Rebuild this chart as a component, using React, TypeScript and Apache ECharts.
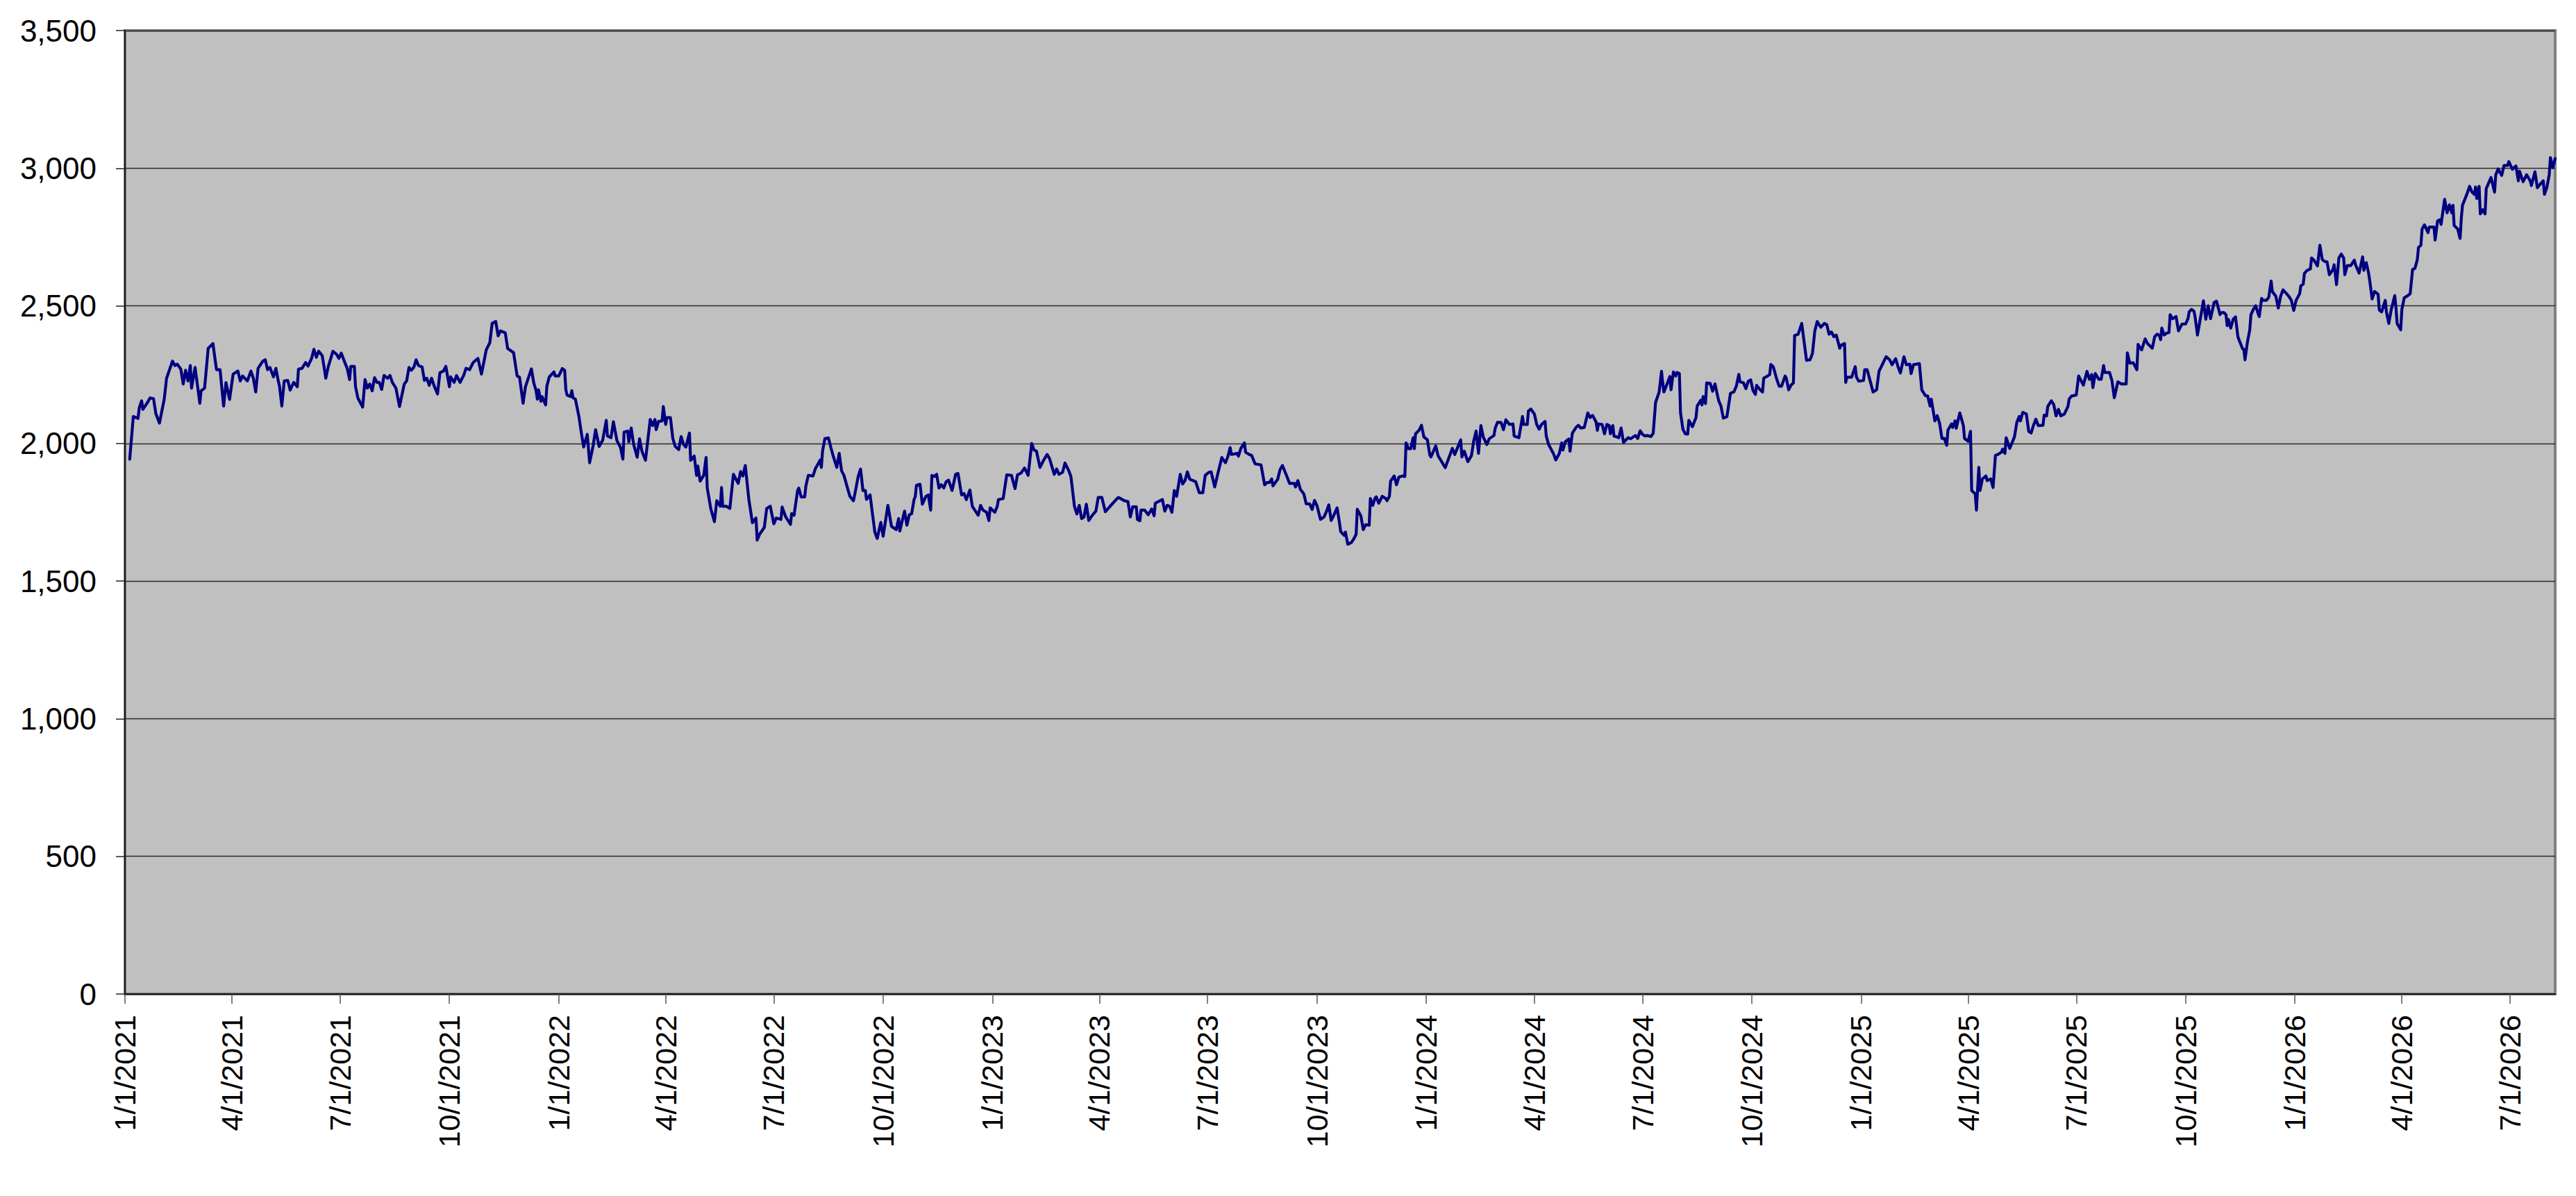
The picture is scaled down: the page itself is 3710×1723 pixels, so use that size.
import React, { useEffect, useRef } from "react";
import * as echarts from "echarts";

// Start date of the series; observations are [days since START, close value]
const START = { year: 2021, month: 0, day: 1 };
const AXIS_END_DAY = 2045;

const xTickLabels = [
  "1/1/2021", "4/1/2021", "7/1/2021", "10/1/2021",
  "1/1/2022", "4/1/2022", "7/1/2022", "10/1/2022",
  "1/1/2023", "4/1/2023", "7/1/2023", "10/1/2023",
  "1/1/2024", "4/1/2024", "7/1/2024", "10/1/2024",
  "1/1/2025", "4/1/2025", "7/1/2025", "10/1/2025",
  "1/1/2026", "4/1/2026", "7/1/2026",
];

const yMin = 0;
const yMax = 3500;
const yInterval = 500;

const obs2021: [number, number][] = [
  [4,1943],[7,2098],[11,2091],[12,2129],[14,2155],[15,2124],[19,2149],[21,2165],[24,2163],[26,2108],
  [29,2074],[33,2160],[35,2237],[40,2299],[42,2283],[44,2288],[47,2270],[49,2216],[51,2266],[53,2227],
  [55,2283],[56,2201],[59,2276],[63,2146],[64,2191],[67,2201],[70,2345],[74,2363],[77,2268],[80,2268],
  [83,2136],[85,2221],[88,2160],[91,2252],[95,2263],[97,2227],[99,2245],[103,2227],[106,2263],[108,2237],
  [110,2187],[112,2273],[116,2299],[118,2304],[120,2268],[122,2276],[125,2242],[127,2273],[129,2227],[130,2209],
  [132,2136],[134,2227],[137,2229],[139,2194],[142,2222],[145,2206],[146,2270],[149,2273],[152,2294],[154,2281],
  [157,2309],[159,2342],[161,2313],[163,2335],[166,2319],[169,2237],[171,2278],[175,2335],[178,2324],[180,2309],
  [182,2328],[185,2294],[187,2273],[189,2232],[190,2280],[193,2280],[194,2206],[196,2165],[200,2132],[202,2232],
  [204,2201],[206,2216],[208,2191],[210,2239],[212,2222],[214,2222],[216,2196],[218,2247],[221,2237],[223,2247],
  [225,2222],[228,2201],[231,2134],[233,2175],[235,2216],[237,2227],[239,2276],[241,2266],[243,2276],[245,2304],
  [247,2283],[250,2278],[252,2229],[254,2237],[256,2211],[258,2237],[260,2211],[263,2180],[265,2257],[268,2263],
  [270,2280],[273,2206],[274,2242],[277,2222],[279,2247],[282,2222],[285,2247],[287,2273],[290,2268],[293,2294],
  [297,2309],[300,2252],[302,2296],[304,2340],[307,2366],[309,2437],[312,2443],[314,2391],[316,2409],[320,2402],
  [322,2345],[327,2330],[330,2245],[332,2241],[335,2146],[337,2206],
];

const obs2022: [number, number][] = [
  [342,2271],[344,2220],[346,2191],[347,2161],[348,2195],[350,2153],[351,2170],[354,2140],[355,2208],[357,2241],
  [361,2260],[362,2245],[365,2245],[368,2272],[370,2266],[371,2195],[372,2176],[375,2170],[376,2192],[377,2166],
  [379,2161],[382,2098],[384,2039],[386,1987],[389,2033],[391,1930],[394,1993],[396,2050],[399,1989],[402,2012],
  [405,2084],[406,2027],[409,2021],[411,2079],[414,2010],[417,1985],[419,1943],[420,2041],[423,2045],[424,2006],
  [426,2056],[428,1997],[431,1950],[433,2017],[435,1972],[438,1939],[442,2087],[444,2065],[446,2087],[447,2050],
  [449,2080],[452,2082],[453,2134],[455,2069],[456,2094],[459,2094],[461,2018],[463,1989],[466,1978],[468,2025],
  [470,1997],[472,1987],[475,2038],[476,1939],[479,1954],[481,1884],[482,1918],[484,1863],[487,1884],[489,1949],
  [490,1838],[493,1762],[496,1716],[498,1792],[501,1772],[502,1840],[503,1772],[506,1772],[509,1764],[512,1888],
  [516,1855],[518,1898],[520,1882],[522,1920],[525,1796],[528,1712],[531,1729],[532,1649],[534,1670],[538,1695],
  [540,1764],[543,1772],[546,1708],[548,1729],[552,1724],[553,1769],[556,1733],[560,1706],[561,1745],[563,1739],
  [566,1829],[567,1838],[569,1806],[572,1806],[573,1846],[575,1884],[579,1882],[581,1909],[583,1924],[585,1940],
  [586,1913],[587,1972],[589,2018],[592,2020],[594,1985],[596,1954],[599,1913],[601,1964],[603,1901],[605,1884],
  [608,1838],[610,1808],[613,1792],[615,1834],[617,1880],[619,1907],[621,1829],[623,1829],[624,1797],[627,1813],
  [629,1745],[631,1678],[633,1655],[636,1713],[638,1663],[642,1775],[645,1699],[649,1687],[651,1727],[652,1682],
  [656,1754],[658,1703],[660,1741],[662,1745],[664,1796],[665,1806],[666,1848],[669,1852],[671,1779],[674,1808],
  [676,1813],[678,1758],[679,1884],[681,1880],[683,1888],[685,1838],
];

const obs2023: [number, number][] = [
  [687,1850],[689,1838],[691,1861],[693,1867],[696,1829],[699,1888],[701,1891],[704,1813],[706,1818],[708,1796],
  [711,1831],[713,1772],[718,1739],[720,1775],[722,1758],[725,1750],[727,1720],[728,1766],[732,1750],[734,1771],
  [735,1796],[739,1800],[742,1886],[746,1884],[749,1836],[751,1886],[754,1892],[757,1911],[760,1884],[763,2000],
  [765,1976],[767,1972],[770,1913],[773,1939],[776,1960],[778,1945],[782,1888],[784,1907],[786,1888],[789,1895],
  [791,1929],[794,1903],[796,1880],[799,1771],[801,1744],[803,1775],[805,1727],[807,1733],[809,1779],[811,1720],
  [814,1739],[817,1754],[819,1804],[822,1804],[825,1752],[829,1772],[832,1786],[834,1796],[836,1804],[841,1792],
  [844,1789],[846,1733],[848,1770],[851,1770],[852,1724],[854,1719],[855,1758],[858,1758],[861,1741],[864,1762],
  [866,1737],[867,1783],[871,1792],[873,1796],[875,1754],[877,1775],[879,1772],[881,1750],[883,1829],[885,1808],
  [888,1888],[890,1853],[892,1865],[894,1897],[896,1870],[901,1861],[904,1821],[907,1821],[909,1884],[912,1895],
  [914,1897],[917,1842],[920,1897],[923,1949],[926,1930],[928,1951],[930,1985],[931,1960],[936,1964],[937,1954],
  [939,1982],[942,2002],[943,1968],[946,1960],[948,1957],[951,1926],[956,1922],[959,1850],[961,1858],[963,1858],
  [965,1871],[966,1846],[970,1870],[972,1905],[974,1920],[977,1888],[980,1855],[984,1855],[985,1842],[987,1865],
  [989,1834],[992,1817],[994,1781],[997,1780],[999,1760],[1001,1793],[1003,1775],[1006,1724],[1009,1733],[1011,1752],
  [1013,1777],[1015,1720],[1017,1737],[1020,1766],[1022,1712],[1023,1680],[1026,1666],[1027,1678],[1029,1634],
];

const obs2024: [number, number][] = [
  [1032,1640],[1034,1653],[1036,1670],[1037,1761],[1040,1737],[1042,1687],[1044,1705],[1047,1703],[1048,1800],[1050,1775],
  [1052,1802],[1053,1806],[1055,1783],[1058,1808],[1061,1800],[1062,1792],[1064,1808],[1065,1863],[1068,1882],[1070,1850],
  [1072,1878],[1075,1882],[1077,1880],[1078,2002],[1080,1981],[1082,1981],[1084,2021],[1085,1981],[1086,2035],[1089,2048],
  [1091,2066],[1093,2024],[1096,2013],[1098,1958],[1099,1951],[1103,1991],[1105,1955],[1108,1934],[1111,1912],[1114,1947],
  [1117,1982],[1119,1960],[1121,1981],[1124,2013],[1125,1951],[1127,1972],[1130,1934],[1133,1955],[1135,2010],[1137,2045],
  [1139,1964],[1141,2065],[1143,2023],[1146,1996],[1148,2017],[1152,2029],[1153,2055],[1155,2077],[1158,2076],[1160,2050],
  [1162,2086],[1165,2069],[1168,2071],[1169,2027],[1173,2021],[1176,2098],[1177,2069],[1180,2069],[1181,2118],[1183,2125],
  [1186,2107],[1188,2069],[1190,2052],[1192,2069],[1195,2080],[1196,2027],[1198,1996],[1202,1964],[1204,1940],[1207,1964],
  [1209,2002],[1210,1976],[1212,2006],[1215,2016],[1216,1972],[1217,2006],[1218,2038],[1221,2058],[1223,2066],[1225,2056],
  [1228,2058],[1231,2111],[1233,2094],[1235,2102],[1238,2077],[1239,2048],[1240,2071],[1243,2069],[1245,2035],[1247,2069],
  [1249,2065],[1250,2035],[1252,2065],[1253,2027],[1256,2023],[1257,2021],[1259,2056],[1261,2004],[1265,2021],[1267,2017],
  [1271,2029],[1273,2018],[1275,2046],[1277,2033],[1279,2027],[1281,2029],[1284,2025],[1286,2037],[1288,2149],[1291,2187],
  [1293,2262],[1294,2220],[1295,2187],[1298,2220],[1300,2243],[1301,2195],[1303,2260],[1305,2245],[1306,2258],[1308,2254],
  [1309,2111],[1311,2052],[1313,2035],[1315,2034],[1316,2084],[1319,2061],[1322,2094],[1323,2136],[1326,2157],[1327,2140],
  [1328,2170],[1330,2145],[1331,2220],[1334,2218],[1336,2190],[1338,2216],[1341,2157],[1343,2136],[1345,2092],[1348,2097],
  [1351,2182],[1354,2188],[1356,2209],[1358,2251],[1359,2224],[1362,2220],[1364,2199],[1366,2226],[1368,2231],[1370,2192],
  [1372,2178],[1373,2211],
];

const obs2025: [number, number][] = [
  [1376,2195],[1378,2187],[1379,2237],[1384,2250],[1385,2287],[1387,2279],[1390,2233],[1392,2208],[1394,2208],[1397,2245],
  [1398,2237],[1400,2195],[1402,2212],[1404,2220],[1405,2392],[1408,2397],[1411,2436],[1415,2302],[1418,2304],[1420,2327],
  [1422,2409],[1424,2443],[1427,2422],[1430,2436],[1432,2432],[1434,2397],[1436,2405],[1438,2388],[1440,2394],[1443,2346],
  [1444,2357],[1447,2363],[1448,2222],[1449,2241],[1453,2241],[1456,2279],[1457,2241],[1459,2226],[1463,2229],[1464,2268],
  [1466,2268],[1469,2220],[1471,2187],[1474,2195],[1476,2262],[1482,2315],[1485,2304],[1487,2286],[1490,2308],[1492,2279],
  [1494,2256],[1497,2315],[1499,2286],[1502,2288],[1503,2254],[1505,2286],[1510,2290],[1512,2195],[1515,2174],[1517,2172],
  [1519,2136],[1520,2161],[1523,2082],[1525,2101],[1527,2073],[1529,2018],[1531,2018],[1533,1993],[1534,2048],[1537,2071],
  [1538,2058],[1540,2082],[1541,2055],[1544,2111],[1547,2065],[1548,2018],[1551,2008],[1553,2044],[1554,1829],[1557,1817],
  [1558,1758],[1560,1913],[1561,1829],[1563,1871],[1566,1882],[1567,1865],[1570,1871],[1572,1840],[1574,1957],[1576,1960],
  [1579,1968],[1580,1979],[1582,1964],[1583,2021],[1586,1982],[1590,2024],[1592,2077],[1594,2098],[1595,2082],[1597,2113],
  [1600,2107],[1602,2044],[1604,2038],[1606,2066],[1608,2088],[1610,2065],[1614,2066],[1615,2103],[1617,2100],[1618,2134],
  [1621,2155],[1623,2142],[1625,2100],[1627,2124],[1629,2100],[1632,2107],[1635,2134],[1636,2161],[1638,2172],[1642,2176],
  [1644,2245],[1648,2212],[1651,2262],[1653,2233],[1655,2250],[1656,2203],[1658,2254],[1661,2233],[1663,2233],[1665,2283],
  [1666,2258],[1670,2258],[1672,2229],[1674,2166],[1677,2224],[1680,2216],[1684,2216],[1685,2329],[1687,2292],[1690,2293],
  [1693,2268],[1694,2360],[1697,2340],[1700,2380],[1702,2363],
];

const obs2026: [number, number][] = [
  [1706,2346],[1708,2388],[1710,2397],[1712,2392],[1713,2377],[1714,2419],[1716,2394],[1718,2401],[1720,2403],[1721,2468],
  [1723,2453],[1726,2461],[1728,2409],[1731,2434],[1734,2434],[1736,2453],[1737,2478],[1739,2487],[1741,2481],[1742,2460],
  [1744,2394],[1746,2443],[1749,2518],[1751,2451],[1753,2500],[1755,2453],[1758,2512],[1760,2517],[1763,2468],[1764,2475],
  [1766,2476],[1768,2468],[1769,2428],[1770,2451],[1772,2419],[1774,2451],[1776,2460],[1778,2388],[1779,2376],[1782,2344],
  [1783,2342],[1784,2304],[1786,2367],[1788,2413],[1789,2468],[1791,2487],[1793,2500],[1795,2472],[1796,2461],[1798,2527],
  [1799,2520],[1802,2520],[1804,2531],[1806,2590],[1807,2552],[1810,2534],[1812,2492],[1814,2535],[1816,2558],[1819,2544],
  [1821,2534],[1823,2520],[1825,2483],[1827,2520],[1830,2544],[1831,2573],[1833,2579],[1834,2618],[1836,2628],[1839,2634],
  [1840,2674],[1842,2666],[1845,2645],[1847,2720],[1849,2668],[1851,2661],[1853,2660],[1855,2613],[1858,2632],[1859,2649],
  [1861,2577],[1863,2674],[1865,2688],[1867,2674],[1868,2613],[1870,2646],[1873,2646],[1876,2666],[1877,2649],[1880,2619],
  [1883,2678],[1884,2629],[1886,2657],[1888,2619],[1889,2590],[1891,2525],[1893,2552],[1896,2542],[1897,2485],[1899,2478],
  [1902,2520],[1903,2478],[1905,2436],[1907,2485],[1910,2537],[1911,2495],[1912,2436],[1915,2413],[1916,2487],[1918,2529],
  [1921,2537],[1923,2544],[1925,2632],[1927,2636],[1929,2668],[1930,2712],[1932,2720],[1933,2779],[1935,2794],[1938,2766],
  [1939,2786],[1943,2786],[1944,2739],[1946,2808],[1948,2813],[1949,2796],[1952,2887],[1954,2838],[1956,2867],[1958,2838],
  [1959,2865],[1960,2792],[1963,2779],[1965,2745],[1966,2817],[1967,2865],[1971,2909],[1973,2934],[1975,2913],[1977,2905],
  [1978,2932],[1979,2890],[1981,2934],[1982,2834],[1984,2849],[1986,2834],[1987,2926],[1991,2966],[1992,2949],[1994,2913],
  [1995,2976],[1997,2997],[2000,2974],[2002,3010],[2005,3010],[2006,3024],[2009,2996],[2012,3008],[2014,2954],[2015,2989],
  [2018,2951],[2021,2976],[2024,2954],[2025,2937],[2028,2987],[2030,2929],[2032,2940],[2035,2954],[2036,2905],[2038,2930],
  [2040,2976],[2041,3038],[2043,3002],[2045,3035],
];

const dayToTime = (d: number) => new Date(START.year, START.month, START.day + d).getTime();
const labelToTime = (s: string) => {
  const [m, d, y] = s.split("/").map(Number);
  return new Date(y, m - 1, d).getTime();
};
const fmtDate = (v: number) => {
  const dt = new Date(v);
  return `${dt.getMonth() + 1}/${dt.getDate()}/${dt.getFullYear()}`;
};

const FONT = "'Liberation Sans', Arial, Helvetica, sans-serif";

export default function App() {
  const ref = useRef<HTMLDivElement | null>(null);

  useEffect(() => {
    if (!ref.current) return;
    const chart = echarts.init(ref.current, null, { renderer: "svg" });
    const all = [...obs2021, ...obs2022, ...obs2023, ...obs2024, ...obs2025, ...obs2026];
    const seriesData = all.map(([d, v]) => [dayToTime(d), v]);
    const tickTimes = xTickLabels.map(labelToTime);

    chart.setOption({
      animation: false,
      backgroundColor: "#ffffff",
      grid: {
        left: 180,
        top: 44,
        width: 3500,
        height: 1388,
        containLabel: false,
        show: true,
        backgroundColor: "#C0C0C0",
        borderColor: "#808080",
        borderWidth: 4,
      },
      xAxis: {
        type: "value",
        min: dayToTime(0),
        max: dayToTime(AXIS_END_DAY),
        scale: true,
        axisLine: { show: true, onZero: false, lineStyle: { color: "#1a1a1a", width: 2 } },
        axisTick: {
          show: true,
          inside: false,
          length: 14,
          customValues: tickTimes,
          lineStyle: { color: "#555555", width: 1.5 },
        },
        axisLabel: {
          show: true,
          customValues: tickTimes,
          rotate: 90,
          margin: 30,
          hideOverlap: false,
          color: "#000000",
          fontFamily: FONT,
          fontSize: 43,
          formatter: (v: number) => fmtDate(v),
        },
        splitLine: { show: false },
      },
      yAxis: {
        type: "value",
        min: yMin,
        max: yMax,
        interval: yInterval,
        axisLine: { show: true, lineStyle: { color: "#1a1a1a", width: 2 } },
        axisTick: { show: true, inside: false, length: 13, lineStyle: { color: "#222222", width: 1.5 } },
        axisLabel: {
          show: true,
          margin: 41,
          color: "#000000",
          fontFamily: FONT,
          fontSize: 44,
          formatter: (v: number) => v.toLocaleString("en-US"),
        },
        splitLine: { show: true, lineStyle: { color: "#2a2a2a", width: 1.4 } },
      },
      series: [
        {
          type: "line",
          data: seriesData,
          showSymbol: false,
          symbol: "none",
          smooth: false,
          lineStyle: { color: "#000080", width: 4.2, join: "round", cap: "round" },
          itemStyle: { color: "#000080" },
          emphasis: { disabled: true },
        },
      ],
    });

    return () => {
      chart.dispose();
    };
  }, []);

  return (
    <div
      ref={ref}
      style={{ position: "fixed", left: 0, top: 0, width: 3710, height: 1723, background: "#ffffff" }}
    />
  );
}
